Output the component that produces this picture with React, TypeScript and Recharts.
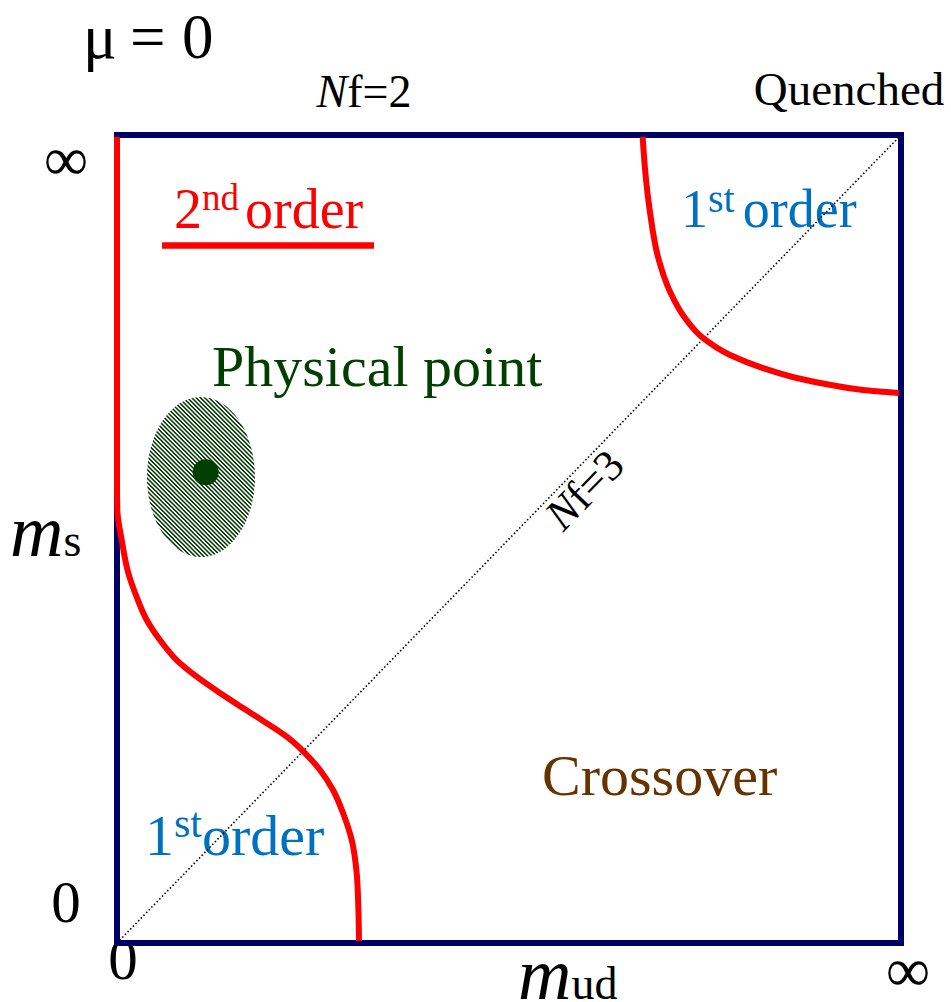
import { ComposedChart, Line, Scatter, XAxis, YAxis } from 'recharts';

// Columbia plot at zero chemical potential: both axes run from 0 to infinity,
// mapped here onto a unit square (x = m_ud, y = m_s).
const frame = [
  { x: 0, y: 0.5 },
  { x: 0, y: 0 },
  { x: 1, y: 0 },
  { x: 1, y: 1 },
  { x: 0, y: 1 },
  { x: 0, y: 0.5 },
];

const nf3Diagonal = [
  { x: 0, y: 0 },
  { x: 1, y: 1 },
];

// second order boundary on the light-quark side (Nf=2 edge down to the chiral corner)
const lightBoundary = [
  { x: 0, y: 0.9975 },
  { x: 0, y: 0.5606 },
  { x: 0.0004, y: 0.5359 },
  { x: 0.006, y: 0.4988 },
  { x: 0.0144, y: 0.4579 },
  { x: 0.0251, y: 0.4282 },
  { x: 0.0379, y: 0.3998 },
  { x: 0.0548, y: 0.375 },
  { x: 0.0761, y: 0.3502 },
  { x: 0.1017, y: 0.3296 },
  { x: 0.1314, y: 0.3094 },
  { x: 0.1607, y: 0.2908 },
  { x: 0.1846, y: 0.276 },
  { x: 0.2165, y: 0.2553 },
  { x: 0.2398, y: 0.2351 },
  { x: 0.2589, y: 0.2141 },
  { x: 0.2755, y: 0.1894 },
  { x: 0.2883, y: 0.1609 },
  { x: 0.2994, y: 0.1275 },
  { x: 0.3057, y: 0.0866 },
  { x: 0.3078, y: 0.0449 },
  { x: 0.3087, y: 0.0025 },
];

// boundary of the first order region near the quenched corner
const heavyBoundary = [
  { x: 0.6705, y: 0.9975 },
  { x: 0.6735, y: 0.958 },
  { x: 0.6798, y: 0.9047 },
  { x: 0.6904, y: 0.8478 },
  { x: 0.7054, y: 0.8061 },
  { x: 0.7245, y: 0.7735 },
  { x: 0.7474, y: 0.7488 },
  { x: 0.7819, y: 0.7277 },
  { x: 0.824, y: 0.7116 },
  { x: 0.867, y: 0.6993 },
  { x: 0.9107, y: 0.6906 },
  { x: 0.9515, y: 0.6844 },
  { x: 0.9974, y: 0.6807 },
];

const secondOrderKey = [
  { x: 0.0574, y: 0.8632 },
  { x: 0.3278, y: 0.8632 },
];

const physicalRegion = [{ x: 0.1071, y: 0.5767 }];
const physicalPoint = [{ x: 0.1131, y: 0.5826 }];

const NAVY = '#000066';
const RED = '#ff0000';
const BLUE = '#0070c0';
const GREEN = '#003f00';
const HATCH = '#003300';
const BROWN = '#663300';
const SERIF = '"Liberation Serif", "Times New Roman", serif';

const HatchedEllipse = (props: any) => {
  const { cx, cy } = props;
  return (
    <g>
      <defs>
        <pattern id="hatch" width="3.05" height="3.05" patternUnits="userSpaceOnUse" patternTransform="rotate(-45)">
          <line x1="0.8" y1="0" x2="0.8" y2="3.05" stroke={HATCH} strokeWidth="1.5" />
        </pattern>
      </defs>
      <ellipse cx={cx} cy={cy} rx={54} ry={80} fill="url(#hatch)" />
    </g>
  );
};

const Dot = (props: any) => <circle cx={props.cx} cy={props.cy} r={13} fill={GREEN} />;

export default function App() {
  return (
    <div style={{ position: 'absolute', left: 0, top: 0, width: 951, height: 1002, background: '#fff' }}>
      <ComposedChart width={951} height={1002} margin={{ top: 135, right: 50, bottom: 59, left: 117 }}>
        <XAxis type="number" dataKey="x" domain={[0, 1]} hide />
        <YAxis type="number" dataKey="y" domain={[0, 1]} hide />

        <Line data={frame} dataKey="y" type="linear" stroke={NAVY} strokeWidth={6} strokeLinejoin="miter"
          dot={false} activeDot={false} isAnimationActive={false} />
        <Line data={nf3Diagonal} dataKey="y" type="linear" stroke="#000" strokeWidth={1.6} strokeDasharray="1.5 2.3"
          dot={false} activeDot={false} isAnimationActive={false} />
        <Line data={lightBoundary} dataKey="y" type="monotoneY" stroke={RED} strokeWidth={6}
          dot={false} activeDot={false} isAnimationActive={false} />
        <Line data={heavyBoundary} dataKey="y" type="monotoneY" stroke={RED} strokeWidth={6}
          dot={false} activeDot={false} isAnimationActive={false} />
        <Line data={secondOrderKey} dataKey="y" type="linear" stroke={RED} strokeWidth={6.5}
          dot={false} activeDot={false} isAnimationActive={false} />

        <Scatter data={physicalRegion} dataKey="y" shape={HatchedEllipse} isAnimationActive={false} />
        <Scatter data={physicalPoint} dataKey="y" shape={Dot} isAnimationActive={false} />

        <g fontFamily={SERIF}>
          <text y={58} fontSize={63} fill="#000">
            <tspan x={83}>μ</tspan>
            <tspan x={130}>=</tspan>
            <tspan x={182}>0</tspan>
          </text>
          <text x={364} y={107} fontSize={46} textAnchor="middle" fill="#000">
            <tspan fontStyle="italic">N</tspan>f=2
          </text>
          <text x={849} y={105} fontSize={47} textAnchor="middle" fill="#000">Quenched</text>

          <text x={66} y={180} fontSize={62} textAnchor="middle" fill="#000">∞</text>
          <text x={66} y={922} fontSize={59} textAnchor="middle" fill="#000">0</text>
          <text x={123} y={979} fontSize={59} textAnchor="middle" fill="#000">0</text>
          <text x={908} y={991} fontSize={62} textAnchor="middle" fill="#000">∞</text>

          <text x={10} y={556} fill="#000">
            <tspan fontSize={74} fontStyle="italic">m</tspan>
            <tspan fontSize={46}>s</tspan>
          </text>
          <text x={518} y={999} fill="#000">
            <tspan fontSize={74} fontStyle="italic">m</tspan>
            <tspan fontSize={46}>ud</tspan>
          </text>

          <text x={174} y={228} fontSize={56} fill={RED}>
            2<tspan fontSize={37} dy={-18}>nd</tspan>
            <tspan dy={18} dx={6}>order</tspan>
          </text>
          <text x={681} y={227} fontSize={54} fill={BLUE}>
            1<tspan fontSize={40} dy={-15}>st</tspan>
            <tspan dy={15} dx={8}>order</tspan>
          </text>
          <text x={145} y={855} fontSize={58} fill={BLUE}>
            1<tspan fontSize={42} dy={-18}>st</tspan>
            <tspan dy={18}>order</tspan>
          </text>

          <text x={212} y={386} fontSize={58} fill={GREEN}>Physical point</text>
          <text x={542} y={795} fontSize={58} fill={BROWN}>Crossover</text>

          <text x={595} y={500} fontSize={44} textAnchor="middle" fill="#000" transform="rotate(-45.8 595 500)">
            <tspan fontStyle="italic">N</tspan>f=3
          </text>
        </g>
      </ComposedChart>
    </div>
  );
}
